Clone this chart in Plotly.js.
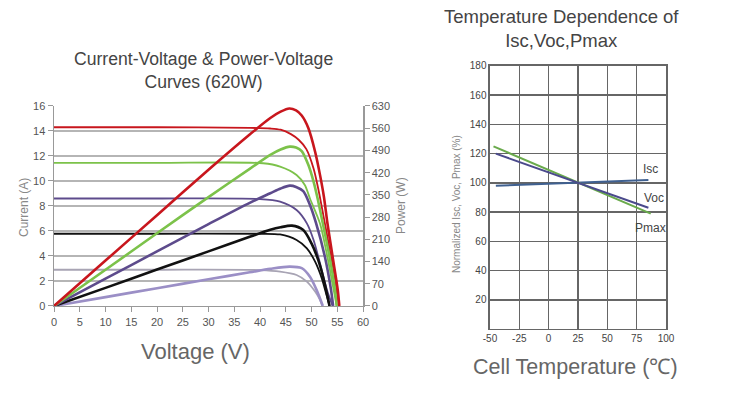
<!DOCTYPE html>
<html>
<head>
<meta charset="utf-8">
<script src="https://cdn.plot.ly/plotly-3.0.1.min.js"></script>
<style>html,body{margin:0;padding:0;background:#fff;}#chart{width:750px;height:394px;}</style>
</head>
<body>
<div id="chart"></div>
<script>
// ---- I-V / P-V curves (620W module) ----
const redIvV  = [0, 20, 38, 42, 44, 46, 47.5, 49, 50.4, 51.3, 52.6, 53.8, 54.8, 55.4];
const redIvI  = [14.3, 14.3, 14.25, 14.2, 14.1, 13.75, 13.3, 12.55, 11.0, 9.4, 6.6, 3.9, 1.3, 0];
const redPvV  = [0, 10, 20, 30, 38, 42, 44, 45.7, 47, 48.1, 49.4, 50.7, 51.65, 52.4, 53.1, 54.1, 55.1, 55.4];
const redPvP  = [0, 143, 286, 429, 540, 592, 612, 622, 616, 600, 560, 486, 413, 345, 260, 155, 50, 0];

const greenIvV = [0, 20, 40.6, 43.9, 47.1, 48.7, 49.7, 51.65, 53.1, 54.3, 54.9];
const greenIvI = [11.45, 11.45, 11.42, 11.15, 10.48, 9.68, 8.6, 6.6, 3.9, 1.3, 0];
const greenPvV = [0, 10, 20, 30, 38, 42, 44, 45.8, 47, 48.1, 49.4, 50.4, 51.1, 52.2, 53.5, 54.6, 54.9];
const greenPvP = [0, 114, 229, 343, 432, 476, 493, 502, 499, 488, 444, 392, 345, 260, 155, 50, 0];

const purpleIvV = [0, 20, 40, 43.9, 47.1, 49.1, 50.4, 51.65, 53.0, 54.1];
const purpleIvI = [8.6, 8.6, 8.55, 8.35, 7.68, 6.61, 5.28, 3.41, 1.28, 0];
const purplePvV = [0, 10, 20, 30, 38, 42, 44, 45.8, 47, 48.4, 49.7, 50.9, 52.6, 53.8, 54.2];
const purplePvP = [0, 86, 172, 258, 325, 355, 370, 379, 375, 362, 318, 260, 155, 50, 0];

const blackIvV = [0, 20, 40, 43.9, 47.1, 49.1, 50.7, 52.0, 53.0, 53.5];
const blackIvI = [5.78, 5.78, 5.78, 5.72, 5.28, 4.61, 3.55, 2.21, 0.75, 0];
const blackPvV = [0, 10, 20, 30, 38, 42, 44, 46.2, 48.4, 50.0, 51.3, 52.4, 53.5];
const blackPvP = [0, 57, 115, 172, 218, 240, 248, 253, 239, 197, 145, 82, 0];

const lightIvV = [0, 20, 40, 43.9, 47.1, 49.1, 50.7, 51.65, 52.1];
const lightIvI = [2.9, 2.9, 2.87, 2.75, 2.48, 1.95, 1.15, 0.48, 0];
const lightPvV = [0, 10, 20, 30, 38, 42, 45.8, 48.1, 49.7, 51.0, 52.2];
const lightPvP = [0, 28, 56, 84, 106, 117, 124, 119, 92, 50, 0];

// ---- Temperature dependence ----
const iscT  = [-45, 25, 85];
const iscY  = [98, 100, 102];
const vocT  = [-45, 25, 85];
const vocY  = [120, 100, 83];
const pmaxT = [-47, 25, 87];
const pmaxY = [125, 100, 79];

const leftXTicks  = [0, 5, 10, 15, 20, 25, 30, 35, 40, 45, 50, 55, 60];
const leftYTicks  = [0, 2, 4, 6, 8, 10, 12, 14, 16];
const rightYTicks = [0, 70, 140, 210, 280, 350, 420, 490, 560, 630];
const tempXTicks  = [-50, -25, 0, 25, 50, 75, 100];
const tempXLabels = ['-50', '-25', '0', '25', '50', '75', '100'];
const tempYTicks  = [20, 40, 60, 80, 100, 120, 140, 160, 180];

const RED = '#c8161d', GREEN = '#7cc24a', PURPLE = '#5d4b8c', BLACK = '#111111', LPURP = '#9b8fc6', LGRAY = '#a8a4b4';

function iv(x, y, c) {
  return {x: x, y: y, xaxis: 'x', yaxis: 'y', mode: 'lines', line: {color: c, width: 1.8, shape: 'spline', smoothing: 0.8}, hoverinfo: 'skip'};
}
function pv(x, y, c) {
  return {x: x, y: y, xaxis: 'x', yaxis: 'y2', mode: 'lines', line: {color: c, width: 2.6, shape: 'spline', smoothing: 0.8}, hoverinfo: 'skip'};
}
function tl(x, y, c) {
  return {x: x, y: y, xaxis: 'x3', yaxis: 'y3', mode: 'lines', line: {color: c, width: 2}, hoverinfo: 'skip'};
}

const data = [
  iv(lightIvV, lightIvI, LGRAY), pv(lightPvV, lightPvP, LPURP),
  iv(blackIvV, blackIvI, BLACK), pv(blackPvV, blackPvP, BLACK),
  iv(purpleIvV, purpleIvI, PURPLE), pv(purplePvV, purplePvP, PURPLE),
  iv(greenIvV, greenIvI, GREEN), pv(greenPvV, greenPvP, GREEN),
  iv(redIvV, redIvI, RED), pv(redPvV, redPvP, RED),
  tl(iscT, iscY, '#3f6090'), tl(pmaxT, pmaxY, '#6aaa4c'), tl(vocT, vocY, '#4b4a8c')
];

const FONT = 'Liberation Sans, Arial, sans-serif';
const tickF = {family: FONT, size: 11, color: '#555'};
const tickF3 = {family: FONT, size: 10, color: '#444'};

const layout = {
  width: 750, height: 394,
  margin: {l: 0, r: 0, t: 0, b: 0},
  paper_bgcolor: '#fff', plot_bgcolor: 'rgba(0,0,0,0)',
  showlegend: false,
  font: {family: FONT},
  xaxis: {domain: [0.072, 0.484], range: [0, 60], tickvals: leftXTicks,
    ticks: 'outside', ticklen: 5, tickcolor: '#999', showline: true, linecolor: '#999', linewidth: 1.5,
    showgrid: false, zeroline: false, tickfont: tickF, anchor: 'y', fixedrange: true},
  yaxis: {domain: [0.2234, 0.731], range: [0, 16], tickvals: leftYTicks,
    ticks: 'outside', ticklen: 5, tickcolor: '#999', showline: true, linecolor: '#999', linewidth: 1.5,
    showgrid: true, gridcolor: '#b5b5b5', gridwidth: 1.5, zeroline: false, tickfont: tickF, anchor: 'x', fixedrange: true},
  yaxis2: {overlaying: 'y', side: 'right', anchor: 'x', range: [0, 630], tickvals: rightYTicks,
    ticks: 'outside', ticklen: 5, tickcolor: '#999', showline: true, linecolor: '#999', linewidth: 1.5,
    showgrid: false, zeroline: false, tickfont: tickF, fixedrange: true},
  xaxis3: {domain: [0.6533, 0.888], anchor: 'y3', range: [-50, 100], tickvals: tempXTicks, ticktext: tempXLabels,
    ticks: '', showline: true, mirror: true, linecolor: '#666', linewidth: 1.5,
    showgrid: true, gridcolor: '#666', gridwidth: 1.5, zeroline: false, tickfont: tickF3, fixedrange: true},
  yaxis3: {domain: [0.165, 0.8325], anchor: 'x3', range: [0, 180], tickvals: tempYTicks,
    ticks: '', showline: true, mirror: true, linecolor: '#666', linewidth: 1.5,
    showgrid: true, gridcolor: '#666', gridwidth: 1.5, zeroline: false, tickfont: tickF3, fixedrange: true},
  annotations: [
    {text: 'Current-Voltage & Power-Voltage<br>Curves (620W)', xref: 'paper', yref: 'paper', x: 0.2707, y: 0.82,
      xanchor: 'center', yanchor: 'middle', showarrow: false, font: {family: FONT, size: 17.6, color: '#444'}},
    {text: 'Temperature Dependence of<br>Isc,Voc,Pmax', xref: 'paper', yref: 'paper', x: 0.749, y: 0.928,
      xanchor: 'center', yanchor: 'middle', showarrow: false, font: {family: FONT, size: 18.5, color: '#444'}},
    {text: 'Voltage (V)', xref: 'paper', yref: 'paper', x: 0.26, y: (394-351)/394,
      xanchor: 'center', yanchor: 'middle', showarrow: false, font: {family: FONT, size: 22, color: '#666'}},
    {text: 'Current (A)', xref: 'paper', yref: 'paper', x: 24/750, y: (394-208)/394, textangle: -90,
      xanchor: 'center', yanchor: 'middle', showarrow: false, font: {family: FONT, size: 12, color: '#888'}},
    {text: 'Power (W)', xref: 'paper', yref: 'paper', x: 401/750, y: (394-205)/394, textangle: -90,
      xanchor: 'center', yanchor: 'middle', showarrow: false, font: {family: FONT, size: 12, color: '#888'}},
    {text: 'Normalized Isc, Voc, Pmax (%)', xref: 'paper', yref: 'paper', x: 456/750, y: (394-204)/394, textangle: -90,
      xanchor: 'center', yanchor: 'middle', showarrow: false, font: {family: FONT, size: 10, color: '#888'}},
    {text: 'Cell Temperature (℃)', xref: 'paper', yref: 'paper', x: 575/750, y: (394-367)/394,
      xanchor: 'center', yanchor: 'middle', showarrow: false, font: {family: FONT, size: 21.5, color: '#666'}},
    {text: 'Isc', xref: 'x3', yref: 'y3', x: 86.4, y: 109.5, xanchor: 'center', yanchor: 'middle', showarrow: false,
      font: {family: FONT, size: 12, color: '#444'}},
    {text: 'Voc', xref: 'x3', yref: 'y3', x: 89.8, y: 89.7, xanchor: 'center', yanchor: 'middle', showarrow: false,
      font: {family: FONT, size: 12, color: '#444'}},
    {text: 'Pmax', xref: 'x3', yref: 'y3', x: 87.2, y: 69, xanchor: 'center', yanchor: 'middle', showarrow: false,
      font: {family: FONT, size: 12, color: '#444'}}
  ]
};

Plotly.newPlot('chart', data, layout, {displayModeBar: false, staticPlot: true});
</script>
</body>
</html>
